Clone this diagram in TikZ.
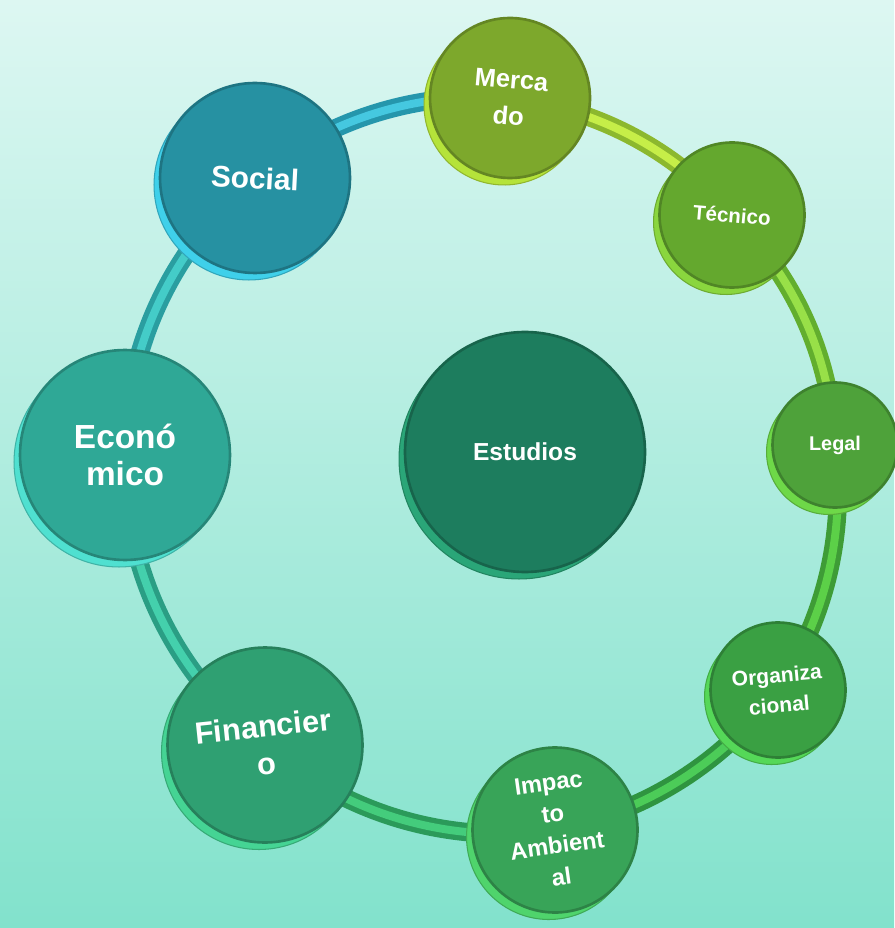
\documentclass[tikz,border=0pt]{standalone}
\usepackage{fontspec}
\setmainfont{Liberation Sans}
\usepackage{tikz}

\definecolor{bgtop}{HTML}{DDF7F2}
\definecolor{bgbot}{HTML}{82E2CC}
% faces and rims
\definecolor{mercF}{HTML}{7DA82C}\definecolor{mercR}{HTML}{B5E33A}
\definecolor{tecF}{HTML}{64A82E}\definecolor{tecR}{HTML}{8AD63E}
\definecolor{legF}{HTML}{4EA23A}\definecolor{legR}{HTML}{6ED848}
\definecolor{orgF}{HTML}{3AA043}\definecolor{orgR}{HTML}{55D858}
\definecolor{impF}{HTML}{38A458}\definecolor{impR}{HTML}{4FD46C}
\definecolor{finF}{HTML}{2FA072}\definecolor{finR}{HTML}{45D494}
\definecolor{ecoF}{HTML}{2FA896}\definecolor{ecoR}{HTML}{4FE0D0}
\definecolor{socF}{HTML}{2691A2}\definecolor{socR}{HTML}{3FD0EA}
\definecolor{estF}{HTML}{1D7D5E}\definecolor{estR}{HTML}{2AA678}
% ring bands
\definecolor{bandSM}{HTML}{2596AC}\definecolor{bandSMl}{HTML}{45C8E0}
\definecolor{bandMT}{HTML}{8CB82E}\definecolor{bandMTl}{HTML}{C6EE48}
\definecolor{bandTL}{HTML}{62AE2E}\definecolor{bandTLl}{HTML}{98E048}
\definecolor{bandLO}{HTML}{3E9C36}\definecolor{bandLOl}{HTML}{5CD048}
\definecolor{bandOI}{HTML}{2F9440}\definecolor{bandOIl}{HTML}{4CCC58}
\definecolor{bandIF}{HTML}{2B9A5A}\definecolor{bandIFl}{HTML}{44CC7C}
\definecolor{bandFE}{HTML}{2A9E84}\definecolor{bandFEl}{HTML}{44D0AC}
\definecolor{bandES}{HTML}{2A9EA0}\definecolor{bandESl}{HTML}{44CCC8}

\tikzset{
  coin/.style 2 args={circle, inner sep=0pt, text=white, align=center,
    fill=#1, draw=#1!80!black, line width=1.5pt,
    preaction={fill=#2, draw=#2!80!black, line width=0.6pt,
      transform canvas={shift={(-0.12cm,-0.14cm)}}}},
  band/.style 2 args={draw=#2, line width=4.5pt, looseness=0.9,
    preaction={draw=#1, line width=10.5pt}}
}

\begin{document}
\begin{tikzpicture}[x=0.02cm, y=-0.02cm]
	\shade[top color=bgtop, bottom color=bgbot] (0,0) rectangle (894,928);
	\useasboundingbox (0,0) rectangle (894,928);

	% centres of the discs
	\coordinate (cM) at (510,98);
	\coordinate (cT) at (732,215);
	\coordinate (cL) at (835,445);
	\coordinate (cO) at (778,690);
	\coordinate (cI) at (555,830);
	\coordinate (cF) at (265,745);
	\coordinate (cE) at (125,455);
	\coordinate (cS) at (255,178);
	\coordinate (cC) at (525,452);

	% the ring
	\draw[band={bandSM}{bandSMl}] (cS) to[bend left=21.5] (cM);
	\draw[band={bandMT}{bandMTl}] (cM) to[bend left=20.5] (cT);
	\draw[band={bandTL}{bandTLl}] (cT) to[bend left=21] (cL);
	\draw[band={bandLO}{bandLOl}] (cL) to[bend left=20] (cO);
	\draw[band={bandOI}{bandOIl}] (cO) to[bend left=20.5] (cI);
	\draw[band={bandIF}{bandIFl}] (cI) to[bend left=24.5] (cF);
	\draw[band={bandFE}{bandFEl}] (cF) to[bend left=27] (cE);
	\draw[band={bandES}{bandESl}] (cE) to[bend left=25] (cS);

	% discs
	\node[coin={mercF}{mercR}, minimum size=3.2cm, font=\fontsize{14.5}{21}\bfseries, rotate=-5] (merc) at (cM) {Merca\\do};
	\node[coin={tecF}{tecR}, minimum size=2.9cm, font=\fontsize{11.7}{14}\bfseries, rotate=-5] (tec) at (cT) {Técnico};
	\node[coin={legF}{legR}, minimum size=2.5cm, font=\fontsize{11.3}{14}\bfseries] (leg) at (cL) {Legal};
	\node[coin={orgF}{orgR}, minimum size=2.7cm, font=\fontsize{12}{17}\bfseries, rotate=5] (org) at (cO) {Organiza\\cional};
	\node[coin={impF}{impR}, minimum size=3.3cm, font=\fontsize{13.5}{18}\bfseries, rotate=8] (imp) at (cI) {Impac\\to\\Ambient\\al};
	\node[coin={finF}{finR}, minimum size=3.9cm, font=\fontsize{17.5}{21.5}\bfseries, rotate=6] (fin) at (cF) {Financier\\o};
	\node[coin={ecoF}{ecoR}, minimum size=4.2cm, font=\fontsize{19}{21}\bfseries] (eco) at (cE) {Econó\\mico};
	\node[coin={socF}{socR}, minimum size=3.8cm, font=\fontsize{17}{20}\bfseries, rotate=-3] (soc) at (cS) {Social};
	\node[coin={estF}{estR}, minimum size=4.8cm, font=\fontsize{14}{17}\bfseries] (est) at (cC) {Estudios};
\end{tikzpicture}
\end{document}
